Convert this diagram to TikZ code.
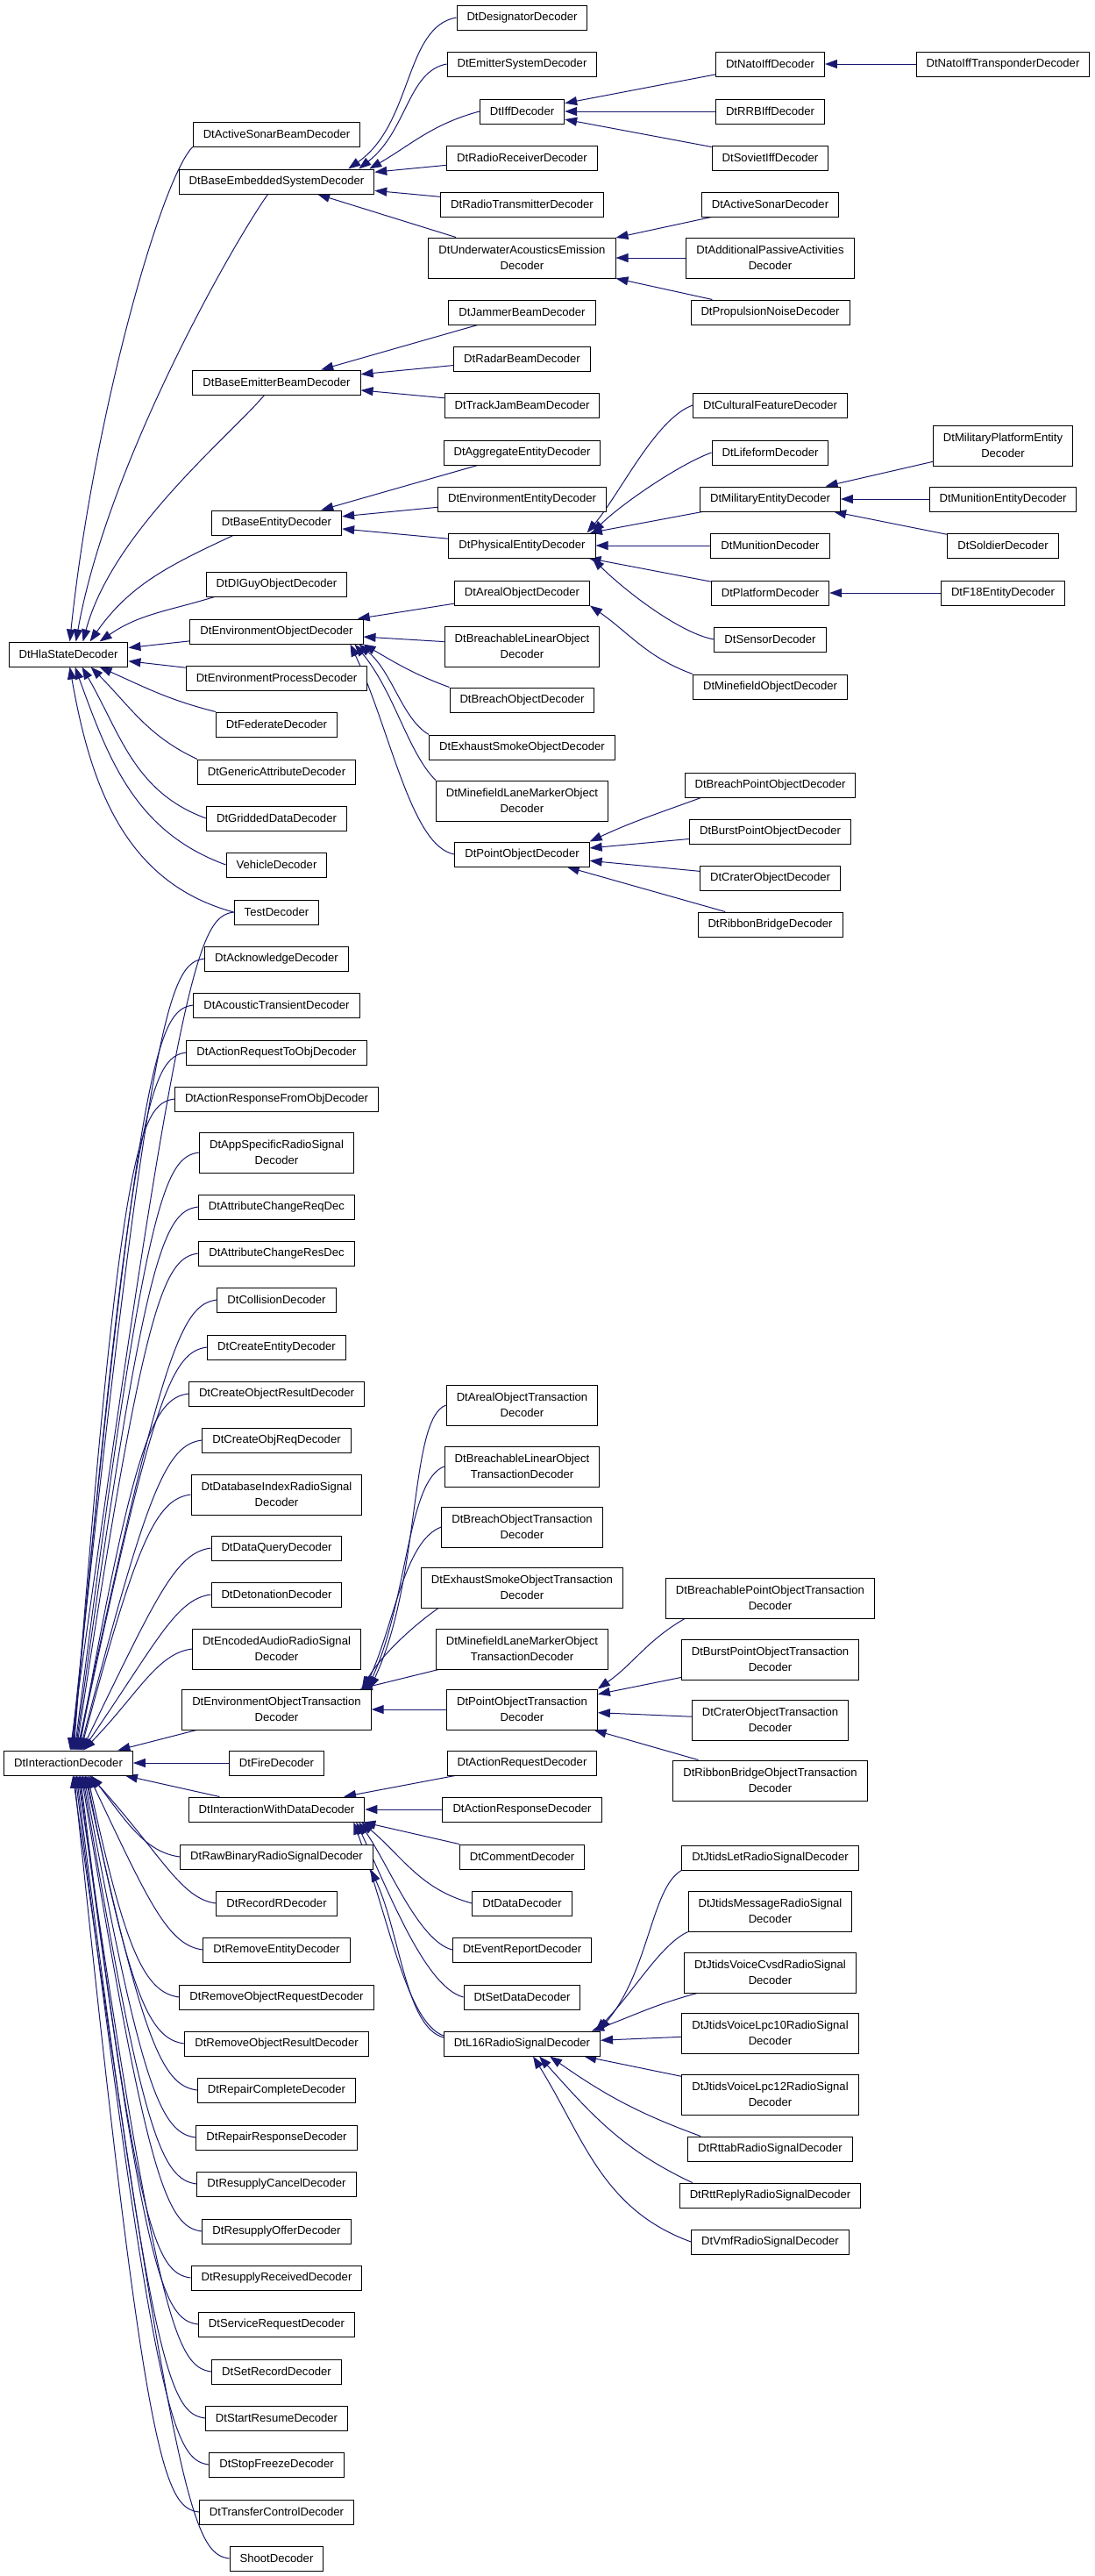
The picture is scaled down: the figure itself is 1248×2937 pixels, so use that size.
\documentclass[tikz,border=0pt]{standalone}
\usepackage{fontspec}
\setmainfont{Liberation Sans}
\usetikzlibrary{arrows.meta,calc}
\definecolor{edgeblue}{HTML}{191970}
\newcommand\clsfont{\fontsize{13.1pt}{18pt}\selectfont}
\newcommand\ihdown[2]{%
  \draw[inh] let \p1=(#1), \p2=(#2), \n1={min(55pt,0.45*abs(\y1-\y2))}
  in (\p1) .. controls ($(\p1)+(-40pt,-5pt)$) and ($(\p1)+(-62pt,-\n1)$) .. (\p2);}
\newcommand\ihup[2]{%
  \draw[inh] let \p1=(#1), \p2=(#2), \n1={min(55pt,0.45*abs(\y1-\y2))}
  in (\p1) .. controls ($(\p1)+(-40pt,5pt)$) and ($(\p1)+(-62pt,\n1)$) .. (\p2);}
\pgfdeclarelayer{back}
\pgfdeclarelayer{edges}
\pgfsetlayers{back,edges,main}
\begin{document}
\begin{tikzpicture}[x=1pt,y=1pt,
  cls/.style={draw=black,line width=1pt,fill=white,font=\clsfont,
    inner xsep=11.5pt,inner ysep=0pt,minimum height=28pt,align=center},
  cls2/.style={cls,minimum height=46pt},
  inh/.style={draw=edgeblue,line width=1pt,-{Triangle[length=14pt,width=10pt]}}]
\begin{pgfonlayer}{back}
\path[use as bounding box,fill=white] (0,0) rectangle (1248,-2937);
\end{pgfonlayer}
% column 0
\node[cls] (hla) at (78,-746) {DtHlaStateDecoder};
\node[cls] (inter) at (78,-2010) {DtInteractionDecoder};
% column 1
\node[cls] (asb) at (315.5,-153) {DtActiveSonarBeamDecoder};
\node[cls] (bes) at (315.5,-207) {DtBaseEmbeddedSystemDecoder};
\node[cls] (beb) at (315.5,-436) {DtBaseEmitterBeamDecoder};
\node[cls] (bent) at (315.5,-596) {DtBaseEntityDecoder};
\node[cls] (dig) at (315.5,-666) {DtDIGuyObjectDecoder};
\node[cls] (eo) at (315.5,-720) {DtEnvironmentObjectDecoder};
\node[cls] (ep) at (315.5,-773) {DtEnvironmentProcessDecoder};
\node[cls] (fed) at (315.5,-826) {DtFederateDecoder};
\node[cls] (gen) at (315.5,-880) {DtGenericAttributeDecoder};
\node[cls] (grid) at (315.5,-933) {DtGriddedDataDecoder};
\node[cls] (veh) at (315.5,-986) {VehicleDecoder};
\node[cls] (test) at (315.5,-1040) {TestDecoder};
\node[cls] (ack) at (315.5,-1093) {DtAcknowledgeDecoder};
\node[cls] (act) at (315.5,-1146) {DtAcousticTransientDecoder};
\node[cls] (artoo) at (315.5,-1200) {DtActionRequestToObjDecoder};
\node[cls] (arfo) at (315.5,-1253) {DtActionResponseFromObjDecoder};
\node[cls2] (app) at (315.5,-1314) {DtAppSpecificRadioSignal\\Decoder};
\node[cls] (acreq) at (315.5,-1376) {DtAttributeChangeReqDec};
\node[cls] (acres) at (315.5,-1429) {DtAttributeChangeResDec};
\node[cls] (coll) at (315.5,-1482) {DtCollisionDecoder};
\node[cls] (ce) at (315.5,-1536) {DtCreateEntityDecoder};
\node[cls] (cor) at (315.5,-1589) {DtCreateObjectResultDecoder};
\node[cls] (cor2) at (315.5,-1642) {DtCreateObjReqDecoder};
\node[cls2] (dbi) at (315.5,-1704) {DtDatabaseIndexRadioSignal\\Decoder};
\node[cls] (dq) at (315.5,-1765) {DtDataQueryDecoder};
\node[cls] (det) at (315.5,-1818) {DtDetonationDecoder};
\node[cls2] (eas) at (315.5,-1880) {DtEncodedAudioRadioSignal\\Decoder};
\node[cls2] (eot) at (315.5,-1949) {DtEnvironmentObjectTransaction\\Decoder};
\node[cls] (fire) at (315.5,-2010) {DtFireDecoder};
\node[cls] (iwd) at (315.5,-2063) {DtInteractionWithDataDecoder};
\node[cls] (rbr) at (315.5,-2117) {DtRawBinaryRadioSignalDecoder};
\node[cls] (rr2) at (315.5,-2170) {DtRecordRDecoder};
\node[cls] (re) at (315.5,-2223) {DtRemoveEntityDecoder};
\node[cls] (ror) at (315.5,-2277) {DtRemoveObjectRequestDecoder};
\node[cls] (rores) at (315.5,-2330) {DtRemoveObjectResultDecoder};
\node[cls] (rc) at (315.5,-2383) {DtRepairCompleteDecoder};
\node[cls] (rresp) at (315.5,-2437) {DtRepairResponseDecoder};
\node[cls] (rsc) at (315.5,-2490) {DtResupplyCancelDecoder};
\node[cls] (rso) at (315.5,-2544) {DtResupplyOfferDecoder};
\node[cls] (rsr) at (315.5,-2597) {DtResupplyReceivedDecoder};
\node[cls] (sr) at (315.5,-2650) {DtServiceRequestDecoder};
\node[cls] (srec) at (315.5,-2704) {DtSetRecordDecoder};
\node[cls] (stres) at (315.5,-2757) {DtStartResumeDecoder};
\node[cls] (stf) at (315.5,-2810) {DtStopFreezeDecoder};
\node[cls] (tc) at (315.5,-2864) {DtTransferControlDecoder};
\node[cls] (shoot) at (315.5,-2917) {ShootDecoder};
% column 2
\node[cls] (des) at (595.5,-20) {DtDesignatorDecoder};
\node[cls] (ems) at (595.5,-73) {DtEmitterSystemDecoder};
\node[cls] (iff) at (595.5,-127) {DtIffDecoder};
\node[cls] (rrec) at (595.5,-180) {DtRadioReceiverDecoder};
\node[cls] (rtr) at (595.5,-233) {DtRadioTransmitterDecoder};
\node[cls2] (uae) at (595.5,-294) {DtUnderwaterAcousticsEmission\\Decoder};
\node[cls] (jam) at (595.5,-356) {DtJammerBeamDecoder};
\node[cls] (radar) at (595.5,-409) {DtRadarBeamDecoder};
\node[cls] (tjb) at (595.5,-462) {DtTrackJamBeamDecoder};
\node[cls] (agg) at (595.5,-516) {DtAggregateEntityDecoder};
\node[cls] (envent) at (595.5,-569) {DtEnvironmentEntityDecoder};
\node[cls] (phys) at (595.5,-622) {DtPhysicalEntityDecoder};
\node[cls] (areal) at (595.5,-676) {DtArealObjectDecoder};
\node[cls2] (blo) at (595.5,-737) {DtBreachableLinearObject\\Decoder};
\node[cls] (bo) at (595.5,-798) {DtBreachObjectDecoder};
\node[cls] (eso) at (595.5,-852) {DtExhaustSmokeObjectDecoder};
\node[cls2] (mlm) at (595.5,-913) {DtMinefieldLaneMarkerObject\\Decoder};
\node[cls] (po) at (595.5,-974) {DtPointObjectDecoder};
\node[cls2] (aot) at (595.5,-1602) {DtArealObjectTransaction\\Decoder};
\node[cls2] (blot) at (595.5,-1672) {DtBreachableLinearObject\\TransactionDecoder};
\node[cls2] (bot) at (595.5,-1741) {DtBreachObjectTransaction\\Decoder};
\node[cls2] (esot) at (595.5,-1810) {DtExhaustSmokeObjectTransaction\\Decoder};
\node[cls2] (mlmot) at (595.5,-1880) {DtMinefieldLaneMarkerObject\\TransactionDecoder};
\node[cls2] (pot) at (595.5,-1949) {DtPointObjectTransaction\\Decoder};
\node[cls] (areq) at (595.5,-2010) {DtActionRequestDecoder};
\node[cls] (aresp) at (595.5,-2063) {DtActionResponseDecoder};
\node[cls] (comm) at (595.5,-2117) {DtCommentDecoder};
\node[cls] (data) at (595.5,-2170) {DtDataDecoder};
\node[cls] (evr) at (595.5,-2223) {DtEventReportDecoder};
\node[cls] (setd) at (595.5,-2277) {DtSetDataDecoder};
\node[cls] (l16) at (595.5,-2330) {DtL16RadioSignalDecoder};
% column 3
\node[cls] (nato) at (878.5,-73) {DtNatoIffDecoder};
\node[cls] (rrb) at (878.5,-127) {DtRRBIffDecoder};
\node[cls] (sov) at (878.5,-180) {DtSovietIffDecoder};
\node[cls] (asd) at (878.5,-233) {DtActiveSonarDecoder};
\node[cls2] (apa) at (878.5,-294) {DtAdditionalPassiveActivities\\Decoder};
\node[cls] (pnd) at (878.5,-356) {DtPropulsionNoiseDecoder};
\node[cls] (cult) at (878.5,-462) {DtCulturalFeatureDecoder};
\node[cls] (life) at (878.5,-516) {DtLifeformDecoder};
\node[cls] (mil) at (878.5,-569) {DtMilitaryEntityDecoder};
\node[cls] (mun) at (878.5,-622) {DtMunitionDecoder};
\node[cls] (plat) at (878.5,-676) {DtPlatformDecoder};
\node[cls] (sens) at (878.5,-729) {DtSensorDecoder};
\node[cls] (mfo) at (878.5,-783) {DtMinefieldObjectDecoder};
\node[cls] (bpo) at (878.5,-895) {DtBreachPointObjectDecoder};
\node[cls] (bupo) at (878.5,-948) {DtBurstPointObjectDecoder};
\node[cls] (crat) at (878.5,-1001) {DtCraterObjectDecoder};
\node[cls] (ribb) at (878.5,-1054) {DtRibbonBridgeDecoder};
\node[cls2] (bpot) at (878.5,-1822) {DtBreachablePointObjectTransaction\\Decoder};
\node[cls2] (bupot) at (878.5,-1892) {DtBurstPointObjectTransaction\\Decoder};
\node[cls2] (crot) at (878.5,-1961) {DtCraterObjectTransaction\\Decoder};
\node[cls2] (rbot) at (878.5,-2030) {DtRibbonBridgeObjectTransaction\\Decoder};
\node[cls] (jlet) at (878.5,-2118) {DtJtidsLetRadioSignalDecoder};
\node[cls2] (jmsg) at (878.5,-2179) {DtJtidsMessageRadioSignal\\Decoder};
\node[cls2] (jcvsd) at (878.5,-2249) {DtJtidsVoiceCvsdRadioSignal\\Decoder};
\node[cls2] (jl10) at (878.5,-2318) {DtJtidsVoiceLpc10RadioSignal\\Decoder};
\node[cls2] (jl12) at (878.5,-2388) {DtJtidsVoiceLpc12RadioSignal\\Decoder};
\node[cls] (rttab) at (878.5,-2450) {DtRttabRadioSignalDecoder};
\node[cls] (rttr) at (878.5,-2503) {DtRttReplyRadioSignalDecoder};
\node[cls] (vmf) at (878.5,-2556) {DtVmfRadioSignalDecoder};
% column 4
\node[cls] (natot) at (1144,-73) {DtNatoIffTransponderDecoder};
\node[cls2] (mpe) at (1144,-508) {DtMilitaryPlatformEntity\\Decoder};
\node[cls] (mune) at (1144,-569) {DtMunitionEntityDecoder};
\node[cls] (sold) at (1144,-622) {DtSoldierDecoder};
\node[cls] (f18) at (1144,-676) {DtF18EntityDecoder};

\begin{pgfonlayer}{edges}
% HLA state decoder
\draw[inh] (asb.south west) to[out=225,in=84,out distance=50pt,in distance=260pt] ([xshift=70pt]hla.north west);
\draw[inh] ([xshift=-10pt]bes.south) to[out=235,in=80,out distance=80pt,in distance=200pt] ([xshift=77pt]hla.north west);
\draw[inh] ([xshift=-14pt]beb.south) to[out=230,in=75,out distance=60pt,in distance=130pt] ([xshift=85pt]hla.north west);
\draw[inh] ([xshift=25pt]bent.south west) to[out=205,in=55] ([xshift=93pt]hla.north west);
\draw[inh] ([xshift=10pt]dig.south west) to[out=197,in=35] ([xshift=104pt]hla.north west);
\draw[inh] (eo) -- (hla);
\draw[inh] (ep) -- (hla);
\draw[inh] (fed.north west) to[out=166,in=-24] ([xshift=104pt]hla.south west);
\draw[inh] (gen.north west) to[out=155,in=-45] ([xshift=94pt]hla.south west);
\draw[inh] (grid.west) to[out=160,in=-60] ([xshift=84pt]hla.south west);
\draw[inh] (veh.west) to[out=160,in=-70] ([xshift=76pt]hla.south west);
\draw[inh] (test.west) to[out=165,in=-80] ([xshift=70pt]hla.south west);
% embedded system
\draw[inh] (des.west) to[out=190,in=35,out distance=60pt,in distance=90pt] ([xshift=-30pt]bes.north east);
\draw[inh] (ems.west) to[out=190,in=38,out distance=45pt,in distance=70pt] ([xshift=-18pt]bes.north east);
\draw[inh] (iff.west) to[out=195,in=30] ([xshift=-6pt]bes.north east);
\foreach \c in {rrec,rtr,uae} \draw[inh] (\c) -- (bes);
\foreach \c in {nato,rrb,sov} \draw[inh] (\c) -- (iff);
\draw[inh] (natot) -- (nato);
\foreach \c in {asd,apa,pnd} \draw[inh] (\c) -- (uae);
\foreach \c in {jam,radar,tjb} \draw[inh] (\c) -- (beb);
\foreach \c in {agg,envent,phys} \draw[inh] (\c) -- (bent);
% physical entity
\draw[inh] (cult.west) to[out=200,in=50,out distance=45pt,in distance=60pt] ([xshift=-10pt]phys.north east);
\draw[inh] (life.west) to[out=200,in=45,out distance=40pt,in distance=45pt] ([xshift=-4pt]phys.north east);
\foreach \c in {mil,mun,plat} \draw[inh] (\c) -- (phys);
\draw[inh] (sens.west) to[out=170,in=-45,out distance=40pt,in distance=50pt] ([xshift=-4pt]phys.south east);
\foreach \c in {mpe,mune,sold} \draw[inh] (\c) -- (mil);
\draw[inh] (f18) -- (plat);
% environment object
\foreach \c in {areal,blo} \draw[inh] (\c) -- (eo);
\draw[inh] (bo.north west) to[out=160,in=-30] (eo.south east);
\draw[inh] (eso.north west) to[out=150,in=-40,out distance=35pt,in distance=50pt] ([xshift=-5pt]eo.south east);
\draw[inh] (mlm.north west) to[out=135,in=-50,out distance=45pt,in distance=70pt] ([xshift=-10pt]eo.south east);
\draw[inh] (po.west) to[out=170,in=-65,out distance=50pt,in distance=110pt] ([xshift=-15pt]eo.south east);
\draw[inh] (mfo.north west) to[out=160,in=-35] (areal.south east);
\draw[inh] ([xshift=19pt]bpo.south west) to[out=200,in=25] (po.north east);
\foreach \c in {bupo,crat,ribb} \draw[inh] (\c) -- (po);
% interaction decoder
\foreach \c [count=\i from 0] in {test,ack,act,artoo,arfo,app,acreq,acres,coll,ce,cor,cor2,dbi,dq,det,eas}{
  \pgfmathsetmacro\ex{76+\i}
  \ihdown{\c.west}{[xshift=\ex pt]inter.north west}
}
\foreach \c [count=\i from 0] in {rbr,rr2,re,ror,rores,rc,rresp,rsc,rso,rsr,sr,srec,stres,stf,tc,shoot}{
  \pgfmathsetmacro\ex{100-1.4*\i}
  \ihup{\c.west}{[xshift=\ex pt]inter.south west}
}
\draw[inh] (eot) -- (inter);
\draw[inh] (fire) -- (inter);
\draw[inh] (iwd) -- (inter);
% environment object transaction
\draw[inh] (aot.west) to[out=200,in=65,out distance=45pt,in distance=140pt] ([xshift=-2pt]eot.north east);
\draw[inh] (blot.west) to[out=200,in=65,out distance=45pt,in distance=110pt] ([xshift=-5pt]eot.north east);
\draw[inh] (bot.west) to[out=200,in=65,out distance=45pt,in distance=80pt] ([xshift=-8pt]eot.north east);
\draw[inh] ([xshift=20pt]esot.south west) to[out=215,in=60,out distance=35pt,in distance=45pt] ([xshift=-11pt]eot.north east);
\draw[inh] (mlmot) -- (eot);
\draw[inh] (pot) -- (eot);
\draw[inh] ([xshift=22pt]bpot.south west) to[out=210,in=35] (pot.north east);
\foreach \c in {bupot,crot,rbot} \draw[inh] (\c) -- (pot);
% interaction with data
\foreach \c in {areq,aresp} \draw[inh] (\c) -- (iwd);
\draw[inh] (comm.north west) -- ([xshift=-2pt]iwd.south east);
\draw[inh] (data.west) to[out=165,in=-40] ([xshift=-4pt]iwd.south east);
\draw[inh] (evr.west) to[out=165,in=-55,out distance=40pt,in distance=60pt] ([xshift=-7pt]iwd.south east);
\draw[inh] (setd.west) to[out=165,in=-65,out distance=45pt,in distance=90pt] ([xshift=-10pt]iwd.south east);
\draw[inh] ([yshift=9pt]l16.west) to[out=160,in=-70,out distance=45pt,in distance=120pt] ([xshift=-13pt]iwd.south east);
\draw[inh] ([yshift=7pt]l16.west) to[out=165,in=-65,out distance=45pt,in distance=80pt] ([xshift=-3pt]rbr.south east);
% L16
\draw[inh] (jlet.south west) to[out=210,in=50,out distance=40pt,in distance=90pt] ([xshift=-2pt]l16.north east);
\draw[inh] (jmsg.south west) to[out=205,in=45,out distance=35pt,in distance=60pt] ([xshift=-6pt]l16.north east);
\draw[inh] ([xshift=15pt]jcvsd.south west) to[out=195,in=20] ([xshift=-10pt]l16.north east);
\foreach \c in {jl10,jl12} \draw[inh] (\c) -- (l16);
\draw[inh] ([xshift=15pt]rttab.north west) to[out=160,in=-35] ([xshift=-58pt]l16.south east);
\draw[inh] ([xshift=15pt]rttr.north west) to[out=155,in=-48] ([xshift=-70pt]l16.south east);
\draw[inh] (vmf.west) to[out=160,in=-58] ([xshift=-77pt]l16.south east);
\end{pgfonlayer}
\end{tikzpicture}
\end{document}
